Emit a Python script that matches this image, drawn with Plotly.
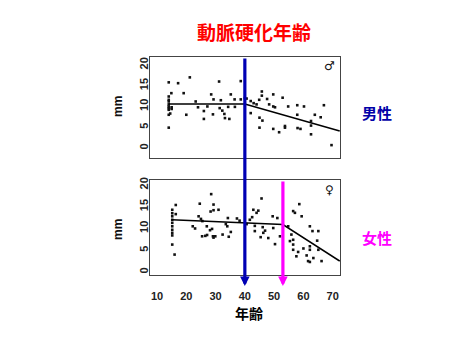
import plotly.graph_objects as go

W, H = 459, 344

# ---- data ----
male_age = [14, 17.2, 21.2, 31.2, 38.6, 14.9, 19.1, 28.5, 29.3, 31.8, 35.2, 36.5, 38.6, 23.2, 24, 27.2,
            26, 20, 26, 29.1, 31.4, 32.3, 33, 33.2, 34.7, 34.3, 36.6, 14.5, 15, 15, 14, 14, 14, 14, 14,
            14, 14, 14, 14, 40, 40.6, 42, 43, 44, 45.8, 45.8, 44.9, 47.6, 49.7, 52.9, 48.3, 50.3, 49.7,
            42, 45, 46, 45, 49.7, 51.7, 53.7, 53.7, 54.8, 57.9, 57.9, 58, 59, 60.2, 62.6, 62.6, 62.6,
            63.9, 65.9, 67, 69.6]
male_mm = [15.8, 15.6, 17, 16, 16.1, 13.2, 13.2, 12.9, 11.7, 11.5, 12.9, 11.7, 11.7, 11.2, 9.8, 10,
           8.9, 8, 7, 8.1, 9.6, 9, 8.2, 7.2, 7, 9.9, 9.9, 8.3, 9.4, 9.8, 4.9, 12.4, 11.6, 11.2, 10.5,
           10, 9.6, 9.2, 8, 12, 11.9, 11.3, 10.8, 10.5, 13.6, 12.6, 11.6, 11.8, 12.9, 12.1, 10.5, 9.8, 10,
           8.4, 7.3, 6.6, 4.9, 4.6, 3.8, 5.3, 4.9, 10, 10.3, 8, 4.8, 4.6, 10, 6.5, 5.4, 3.3,
           8, 7.4, 10.3, 0.7]
male_fit_age = [14, 40, 72.4]
male_fit_mm = [10.6, 10.6, 4.1]

female_age = [28.5, 24.6, 29.3, 31, 29.3, 28.3, 16.4, 16.4, 24.2, 25, 25.5, 34.2, 37.3, 38.2, 22.2, 23,
              27, 28.8, 28.1, 33.5, 34, 35.2, 25.4, 26.5, 27.1, 29.1, 29.9, 29.3, 32.4, 34.5, 15.2, 16,
              15.2, 15.2, 15.2, 15.2, 15.2, 15.2, 15.2, 15.2, 15.2,
              45.7, 44.6, 44.0, 42.9, 42.5, 41.7, 49.5, 51.1, 40.6, 43.4, 46.1, 43.4, 46.9, 46.3, 49.7,
              45.4, 48, 50.3, 52, 58.6, 56.5, 57.1, 59.4, 54.8, 55.9, 62.2, 63.1, 65.1, 56.5, 55.4, 56.5,
              64.7, 62.2, 60, 58.2, 62.2, 56.5, 57.6, 61.1, 63.4, 61.6, 62.2, 66.2, 65.1]
female_mm = [17.9, 15.7, 15.5, 14.3, 14.2, 13.9, 15.4, 13.3, 12.8, 12.2, 11.7, 12.4, 12.3, 11.8, 10.5, 10,
             10.5, 9.9, 9.6, 11, 10.5, 9.2, 8.2, 8.3, 8.5, 8.2, 8.2, 7.9, 8.6, 8.1, 6.3, 4,
             14.3, 13.5, 12.8, 12, 11.3, 10.5, 9.7, 9, 8.4,
             16.9, 14.1, 13.6, 14.3, 12.6, 12.0, 12.8, 12.4, 11.0, 10.6, 10.3, 9.4, 9.5, 9.0, 10.1,
             8.0, 7.8, 6.4, 8.2, 15.6, 14.0, 13.6, 12.8, 10.5, 8.6, 10.5, 9.4, 9.4, 7.4, 7.1, 6.3,
             7.2, 5.9, 5.4, 4.6, 5.1, 5.1, 3.6, 3.8, 3.2, 2.5, 2.3, 2.5, 5.1]
female_fit_age = [15, 53, 72.4]
female_fit_mm = [12.0, 10.9, 2.5]

x_ticks = [10, 20, 30, 40, 50, 60, 70]
y_ticks = [0, 5, 10, 15, 20]
male_turn_age = 40
female_turn_age = 53

title_text = "動脈硬化年齢"
male_label = "男性"
female_label = "女性"
x_title = "年齢"
y_title = "mm"


def px_x(p):
    return p / W


def px_y(p):
    return 1 - p / H


fig = go.Figure()
mk = dict(color="#111", size=2.6, symbol="square")
fig.add_trace(go.Scatter(x=male_age, y=male_mm, mode="markers", marker=mk, xaxis="x", yaxis="y"))
fig.add_trace(go.Scatter(x=male_fit_age, y=male_fit_mm, mode="lines",
                         line=dict(color="black", width=1.6), xaxis="x", yaxis="y"))
fig.add_trace(go.Scatter(x=female_age, y=female_mm, mode="markers", marker=mk, xaxis="x2", yaxis="y2"))
fig.add_trace(go.Scatter(x=female_fit_age, y=female_fit_mm, mode="lines",
                         line=dict(color="black", width=1.6), xaxis="x2", yaxis="y2"))

tickfont = dict(family="Liberation Sans, Arial", size=11, color="#222", weight="bold")
xdom = [px_x(150), px_x(340)]
xr = [7.6, 72.5]
common_x = dict(range=xr, domain=xdom, showgrid=False, zeroline=False, showline=True,
                linecolor="#444", linewidth=1, mirror=True, tickvals=x_ticks, ticks="",
                tickfont=tickfont, automargin=False)
common_y = dict(showgrid=False, zeroline=False, showline=True, linecolor="#444", linewidth=1,
                mirror=True, tickvals=y_ticks, ticks="", tickangle=-90, tickfont=tickfont,
                automargin=False, ticklabelstandoff=-3)

fig.update_layout(
    width=W, height=H, margin=dict(l=0, r=0, t=0, b=0),
    paper_bgcolor="white", plot_bgcolor="white", showlegend=False,
    xaxis=dict(**common_x, anchor="y", showticklabels=False),
    yaxis=dict(**common_y, anchor="x", range=[-2.4, 21.9], domain=[px_y(158), px_y(57)]),
    xaxis2=dict(**common_x, anchor="y2", showticklabels=True, ticklabelstandoff=11),
    yaxis2=dict(**common_y, anchor="x2", range=[-0.7, 21.15], domain=[px_y(275), px_y(180)]),
)

ann = []


def label(text, x, y, font, angle=0):
    ann.append(dict(text=text, x=px_x(x), y=px_y(y), xref="paper", yref="paper",
                    xanchor="center", yanchor="middle", showarrow=False, textangle=angle, font=font))


label(title_text, 254, 32, dict(family="Noto Sans CJK JP", size=19, color="#ff0000", weight="bold"))
label(male_label, 377, 113, dict(family="Noto Sans CJK JP", size=15, color="#0000a8", weight="bold"))
label(female_label, 377, 237, dict(family="Noto Sans CJK JP", size=15, color="#ff00ff", weight="bold"))
label(x_title, 249, 313, dict(family="Noto Sans CJK JP", size=14, color="black", weight="bold"))
for yy in (107, 230):
    label(y_title, 118, yy, dict(family="Liberation Sans, Arial", size=12, color="#111", weight="bold"), -90)
label("♂", 329, 66, dict(family="DejaVu Sans", size=12, color="#111"))
label("♀", 329, 190, dict(family="DejaVu Sans", size=12, color="#111"))

# arrows
tip = 286
ann.append(dict(text="", x=male_turn_age, xref="x2", y=px_y(tip), yref="paper",
                ax=0, ay=-(tip - 57), axref="pixel", ayref="pixel", showarrow=True,
                arrowhead=2, arrowsize=0.6, arrowwidth=3.2, arrowcolor="#0000b4", standoff=0))
ann.append(dict(text="", x=female_turn_age, xref="x2", y=px_y(tip), yref="paper",
                ax=0, ay=-(tip - 180), axref="pixel", ayref="pixel", showarrow=True,
                arrowhead=2, arrowsize=0.6, arrowwidth=3.2, arrowcolor="#ff00ff", standoff=0))
fig.update_layout(annotations=ann)

fig.write_html("out.html")
